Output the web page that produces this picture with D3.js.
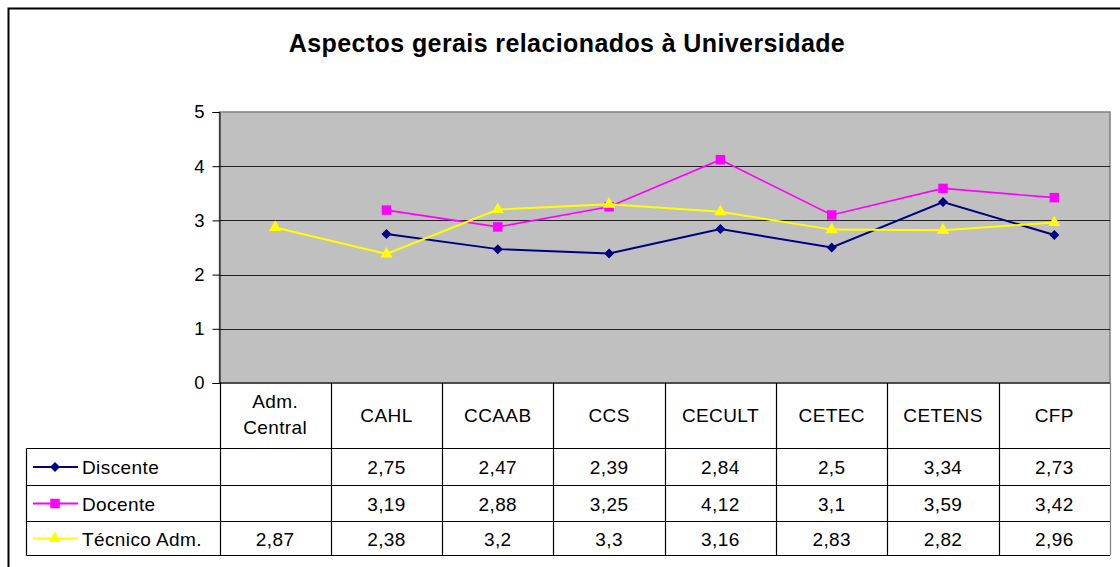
<!DOCTYPE html>
<html>
<head>
<meta charset="utf-8">
<script src="https://cdn.jsdelivr.net/npm/d3@7"></script>
<style>
	body { margin: 0; background: #fff; }
	svg text { font-family: "Liberation Sans", Arial, sans-serif; fill: #000; }
</style>
</head>
<body>
<svg id="chart" width="1120" height="567"></svg>
<script>
// categories (header row of the data table)
var categories = ["Adm. Central", "CAHL", "CCAAB", "CCS", "CECULT", "CETEC", "CETENS", "CFP"];
var yTicks = [0, 1, 2, 3, 4, 5];

// series values, null = no value
var discente = [null, 2.75, 2.47, 2.39, 2.84, 2.5, 3.34, 2.73];
var docente = [null, 3.19, 2.88, 3.25, 4.12, 3.1, 3.59, 3.42];
var tecnico = [2.87, 2.38, 3.2, 3.3, 3.16, 2.83, 2.82, 2.96];

// square-ish diamond like the spreadsheet marker
var squareDiamond = {
	draw: function(ctx, size) {
		var r = Math.sqrt(size / 2);
		ctx.moveTo(0, -r);
		ctx.lineTo(r, 0);
		ctx.lineTo(0, r);
		ctx.lineTo(-r, 0);
		ctx.closePath();
	}
};

var series = [
	{ name: "Discente", values: discente, color: "#000080", marker: squareDiamond, size: 50, width: 2 },
	{ name: "Docente", values: docente, color: "#FF00FF", marker: d3.symbolSquare, size: 90, width: 1.6 },
	{ name: "Técnico Adm.", values: tecnico, color: "#FFFF00", marker: d3.symbolTriangle, size: 65, width: 2 }
];

var svg = d3.select("#chart");

var plotLeft = 219.5, plotRight = 1110, plotTop = 112, plotBottom = 383;
var tableLeft = 26.5;
var rowLines = [383, 448.5, 485.5, 521.5, 555.5];
var tableFont = "19px";
var tableSpacing = "0.4px";

var x = d3.scaleBand().domain(categories).range([plotLeft, plotRight]);
var y = d3.scaleLinear().domain([0, 5]).range([plotBottom, plotTop]);

// outer chart border (runs off the picture on the right and bottom)
svg.append("rect")
	.attr("x", 8.5).attr("y", 8.5)
	.attr("width", 1130).attr("height", 580)
	.attr("fill", "none").attr("stroke", "#000").attr("stroke-width", 2);

// title
svg.append("text")
	.attr("x", 567).attr("y", 52)
	.attr("text-anchor", "middle")
	.style("font-size", "25px").style("font-weight", "bold")
	.style("letter-spacing", "0.4px")
	.text("Aspectos gerais relacionados à Universidade");

// plot area
svg.append("rect")
	.attr("x", plotLeft).attr("y", plotTop)
	.attr("width", plotRight - plotLeft).attr("height", plotBottom - plotTop)
	.attr("fill", "#C0C0C0").attr("stroke", "#808080").attr("stroke-width", 1.5);

// gridlines
svg.append("g").selectAll("line")
	.data(yTicks.filter(function(t) { return t > 0 && t < 5; }))
	.enter().append("line")
	.attr("x1", plotLeft).attr("x2", plotRight)
	.attr("y1", function(d) { return Math.round(y(d)) + 0.5; })
	.attr("y2", function(d) { return Math.round(y(d)) + 0.5; })
	.attr("stroke", "#222").attr("stroke-width", 1);

// y axis
var yAxis = svg.append("g")
	.attr("transform", "translate(" + plotLeft + ",0)")
	.call(d3.axisLeft(y).tickValues(yTicks).tickSize(7).tickPadding(8).tickFormat(d3.format("d")));
yAxis.select(".domain").attr("stroke", "#000");
yAxis.selectAll(".tick line").attr("stroke", "#000");
yAxis.selectAll("text").style("font-size", "18.5px").attr("fill", "#000");

// lines and markers
series.forEach(function(s) {
	var pts = s.values.map(function(v, i) { return { c: categories[i], v: v }; })
		.filter(function(d) { return d.v != null; });
	var line = d3.line()
		.x(function(d) { return x(d.c) + x.bandwidth() / 2; })
		.y(function(d) { return y(d.v); });
	svg.append("path")
		.datum(pts)
		.attr("d", line)
		.attr("fill", "none")
		.attr("stroke", s.color)
		.attr("stroke-width", s.width);
	svg.append("g").selectAll("path")
		.data(pts)
		.enter().append("path")
		.attr("d", d3.symbol().type(s.marker).size(s.size))
		.attr("transform", function(d) {
			return "translate(" + (x(d.c) + x.bandwidth() / 2) + "," + y(d.v) + ")";
		})
		.attr("fill", s.color);
});

// data table
var table = svg.append("g");
var cellBorder = "#000";

// horizontal lines
rowLines.forEach(function(ry, i) {
	table.append("line")
		.attr("x1", i == 0 ? plotLeft : tableLeft).attr("x2", plotRight)
		.attr("y1", ry).attr("y2", ry)
		.attr("stroke", cellBorder).attr("stroke-width", 1.2);
});
// vertical lines
var colEdges = categories.map(function(c) { return x(c); }).concat([plotRight]);
colEdges.forEach(function(cx, i) {
	table.append("line")
		.attr("x1", Math.round(cx) + 0.5).attr("x2", Math.round(cx) + 0.5)
		.attr("y1", plotBottom).attr("y2", rowLines[4])
		.attr("stroke", i == colEdges.length - 1 ? "#808080" : cellBorder).attr("stroke-width", 1.2);
});
table.append("line")
	.attr("x1", tableLeft).attr("x2", tableLeft)
	.attr("y1", rowLines[1]).attr("y2", rowLines[4])
	.attr("stroke", cellBorder).attr("stroke-width", 1.2);

// header labels
categories.forEach(function(c) {
	var words = c.indexOf(" ") > 0 ? c.split(" ") : [c];
	var cx = x(c) + x.bandwidth() / 2;
	var mid = (rowLines[0] + rowLines[1]) / 2;
	var t = table.append("text")
		.attr("x", cx)
		.attr("text-anchor", "middle")
		.style("font-size", tableFont)
		.style("letter-spacing", tableSpacing);
	words.forEach(function(w, wi) {
		t.append("tspan")
			.attr("x", cx)
			.attr("y", mid + 6.5 + (wi - (words.length - 1) / 2) * 25.6 - (words.length > 1 ? 1.5 : 0))
			.text(w);
	});
});

// value rows with legend keys
var fmt = function(v) { return String(v).replace(".", ","); };
series.forEach(function(s, si) {
	var cy = (rowLines[si + 1] + rowLines[si + 2]) / 2;
	table.append("line")
		.attr("x1", 33).attr("x2", 78)
		.attr("y1", cy).attr("y2", cy)
		.attr("stroke", s.color).attr("stroke-width", 2);
	table.append("path")
		.attr("d", d3.symbol().type(s.marker).size(s.size))
		.attr("transform", "translate(55," + cy + ")")
		.attr("fill", s.color);
	table.append("text")
		.attr("x", 82).attr("y", cy + 7)
		.style("font-size", tableFont)
		.style("letter-spacing", tableSpacing)
		.text(s.name);
	s.values.forEach(function(v, i) {
		if (v == null) return;
		table.append("text")
			.attr("x", x(categories[i]) + x.bandwidth() / 2)
			.attr("y", cy + 7)
			.attr("text-anchor", "middle")
			.style("font-size", tableFont)
			.style("letter-spacing", tableSpacing)
			.text(fmt(v));
	});
});
</script>
</body>
</html>
